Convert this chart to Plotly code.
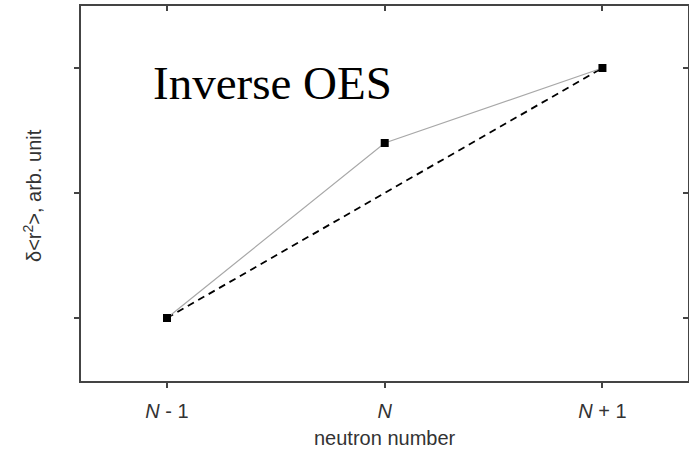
import plotly.graph_objects as go

# Neutron number positions (N-1, N, N+1) and mean-square radius change
neutron_pos = [0, 1, 2]
tick_labels = ["<i>N</i> - 1", "<i>N</i>", "<i>N</i> + 1"]
radius_change = [0.0, 1.4, 2.0]
# Straight reference line between the outer isotopes
ref_x = [0, 2]
ref_y = [0.0, 2.0]
y_ticks = [0, 1, 2]

axis_col = "#444444"
text_col = "#333333"

fig = go.Figure()
fig.add_trace(go.Scatter(
    x=ref_x, y=ref_y, mode="lines",
    line=dict(color="black", width=1.8, dash="7px,5px"),
    showlegend=False, hoverinfo="skip"))
fig.add_trace(go.Scatter(
    x=neutron_pos, y=radius_change, mode="lines+markers",
    line=dict(color="#a8a8a8", width=1.2),
    marker=dict(symbol="square", size=8, color="black"),
    showlegend=False))
# Empty trace so the mirrored axes are rendered
fig.add_trace(go.Scatter(x=[None], y=[None], xaxis="x2", yaxis="y2", showlegend=False))

xr = [-0.395, 2.393]
yr = [-0.504, 2.496]
common = dict(showgrid=False, zeroline=False, linecolor=axis_col, linewidth=1.5,
              tickcolor=axis_col, tickwidth=1.5, ticklen=5)

plot_w = 689 - 81 - 1
plot_h = 453 - 6 - 72


def px_x(px):
    return (px - 81) / plot_w


def px_y(py):
    return (381 - py) / plot_h


fig.update_layout(
    width=689, height=453,
    margin=dict(l=81, r=1, t=6, b=72),
    paper_bgcolor="white", plot_bgcolor="white",
    xaxis=dict(range=xr, tickvals=neutron_pos, ticktext=tick_labels, ticks="outside",
               showline=True, ticklabelstandoff=6,
               tickfont=dict(family="Liberation Sans, Arial", size=20, color=text_col),
               **common),
    xaxis2=dict(range=xr, overlaying="x", side="top", tickvals=neutron_pos, ticks="inside",
                showticklabels=False, showline=True, **common),
    yaxis=dict(range=yr, tickvals=y_ticks, ticks="outside", showticklabels=False,
               showline=True, **common),
    yaxis2=dict(range=yr, overlaying="y", side="right", tickvals=y_ticks, ticks="inside",
                showticklabels=False, showline=True, **common),
    annotations=[
        dict(text="Inverse OES", xref="paper", yref="paper", xanchor="left", yanchor="middle",
             x=px_x(151), y=px_y(83), showarrow=False,
             font=dict(family="Liberation Serif, Times New Roman", size=47, color="black")),
        dict(text="neutron number", xref="paper", yref="paper", x=px_x(385), y=px_y(438),
             yanchor="middle", showarrow=False,
             font=dict(family="Liberation Sans, Arial", size=20, color=text_col)),
        dict(text="δ<r<sup>2</sup>>, arb. unit", xref="paper", yref="paper",
             x=px_x(33), y=px_y(196), xanchor="center", yanchor="middle",
             textangle=-90, showarrow=False,
             font=dict(family="Liberation Sans, Arial", size=20, color=text_col)),
    ],
)

fig.write_html("out.html")
